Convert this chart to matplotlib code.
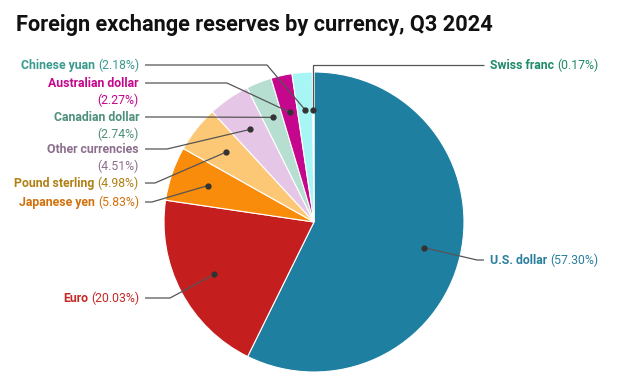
import numpy as np
import matplotlib.pyplot as plt

plt.rcParams['font.family'] = ['Roboto', 'DejaVu Sans']

currencies = ['U.S. dollar', 'Euro', 'Japanese yen', 'Pound sterling',
              'Other currencies', 'Canadian dollar', 'Australian dollar',
              'Chinese yuan', 'Swiss franc']
shares = [57.30, 20.03, 5.83, 4.98, 4.51, 2.74, 2.27, 2.18, 0.17]
slice_colors = ['#1f7fa0', '#c41e1e', '#f98c0a', '#fdc876', '#e6c6e6',
                '#b6dfd1', '#c4078c', '#a8f5f5', '#5e9a86']
text_colors = ['#2a7f9e', '#c62828', '#d2710b', '#b08015', '#8c6f8c',
               '#4f8f7c', '#c4078c', '#3a9a8e', '#1e8a6a']

W, H = 626, 383
fig = plt.figure(figsize=(W / 100, H / 100), dpi=100)
ax = fig.add_axes([0, 0, 1, 1])
cx, cy, R = 314, H - 222, 150

wedges, _ = ax.pie(shares, colors=slice_colors, startangle=90, counterclock=False,
                   center=(cx, cy), radius=R,
                   wedgeprops=dict(edgecolor='white', linewidth=0.8))
ax.set_xlim(0, W)
ax.set_ylim(0, H)
ax.set_aspect('equal')
ax.axis('off')

fig.text(16 / W, 1 - 31 / H, 'Foreign exchange reserves by currency, Q3 2024',
         fontsize=15.7, fontweight='bold', color='#111111', va='baseline')

# label layout: (side, text x, baseline y, elbow x, two lines?)
layout = {
    'U.S. dollar': ('R', 490, 264, 477, False),
    'Euro': ('L', 139, 302, 170, False),
    'Japanese yen': ('L', 139, 206, 152, False),
    'Pound sterling': ('L', 139, 187, 155, False),
    'Other currencies': ('L', 139, 153, 167, True),
    'Canadian dollar': ('L', 139, 121, 188, True),
    'Australian dollar': ('L', 139, 87, 227, True),
    'Chinese yuan': ('L', 139, 69, 267, False),
    'Swiss franc': ('R', 490, 69, None, False),
}

fig.canvas.draw()
renderer = fig.canvas.get_renderer()
fs = 8.8
line_h = 17

for w, name, val, tc in zip(wedges, currencies, shares, text_colors):
    mid = np.deg2rad((w.theta1 + w.theta2) / 2)
    dx_, dy_ = cx + 0.75 * R * np.cos(mid), cy + 0.75 * R * np.sin(mid)
    side, tx, ty, ex, two = layout[name]
    ty = H - ty
    pct = f'({val:.2f}%)'
    ly = ty + 4
    if side == 'L':
        if two:
            ax.text(tx, ty, name, fontsize=fs, fontweight='bold', color=tc,
                    ha='right', va='baseline')
            ax.text(tx, ty - line_h, pct, fontsize=fs, color=tc,
                    ha='right', va='baseline')
        else:
            t = ax.text(tx, ty, pct, fontsize=fs, color=tc, ha='right', va='baseline')
            pw = t.get_window_extent(renderer).width
            ax.text(tx - pw - 3, ty, name, fontsize=fs, fontweight='bold', color=tc,
                    ha='right', va='baseline')
        xs, ys = [tx + 6, ex, dx_], [ly, ly, dy_]
    else:
        t = ax.text(tx, ty, name, fontsize=fs, fontweight='bold', color=tc,
                    ha='left', va='baseline')
        nw = t.get_window_extent(renderer).width
        ax.text(tx + nw + 3, ty, pct, fontsize=fs, color=tc, ha='left', va='baseline')
        if ex is None:
            xs, ys = [tx - 6, dx_, dx_], [ly, ly, dy_]
        else:
            xs, ys = [tx - 6, ex, dx_], [ly, ly, dy_]
    ax.plot(xs, ys, color='#555555', lw=0.9, solid_capstyle='butt')
    ax.plot(dx_, dy_, 'o', color='#333333', ms=3.5)

fig.savefig('out.png', dpi=100)
